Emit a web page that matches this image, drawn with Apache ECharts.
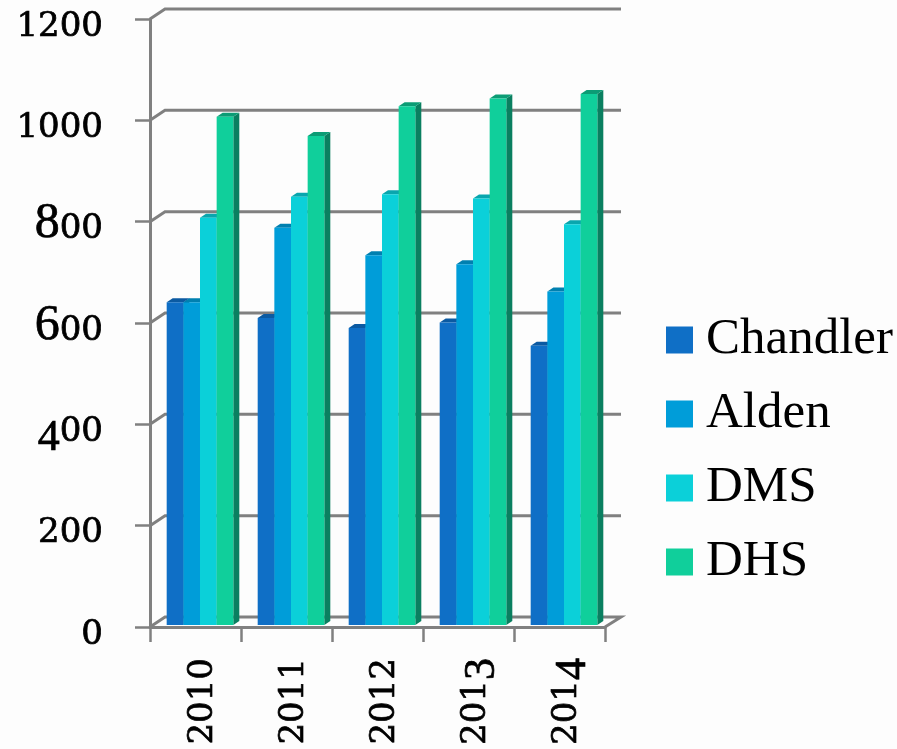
<!DOCTYPE html>
<html>
<head>
<meta charset="utf-8">
<style>html,body{margin:0;padding:0;background:#fdfdfd}#c{width:897px;height:749px}</style>
<script src="https://cdn.jsdelivr.net/npm/echarts@6/dist/echarts.min.js"></script>
</head>
<body>
<div id="c"></div>
<script>
// Enrolment by school and year
const years = ['2010', '2011', '2012', '2013', '2014'];
const yTicks = [0, 200, 400, 600, 800, 1000, 1200];
const chandler = [637, 606, 586, 597, 551];
const alden = [637, 784, 730, 712, 658];
const dms = [804, 845, 850, 842, 791];
const dhs = [1003, 965, 1024, 1039, 1048];

const schoolNames = ['Chandler', 'Alden', 'DMS', 'DHS'];
const schoolValues = [chandler, alden, dms, dhs];
const frontColors = ['#0F6FC6', '#009DD9', '#0BD0D9', '#10CF9B'];
const topColors = ['#0B5AA2', '#0080B0', '#09A6AE', '#0C9C75'];
const sideColors = ['#0A4F8D', '#006D99', '#08949B', '#0A7F60'];

const GRAY = '#808080';
const WALL = [15, -10];     // depth of the back wall
const BAR_DEPTH = [6, -4];
const BAR_SHIFT = [4.5, -2]; // bars stand slightly inside the floor
const BAR_BAND = 0.183;     // one bar as a share of a category

// Old-style figures: low 0 1 2, tall 6 8, descending 3 4
function oldStyle(text) {
  return String(text).split('').map(function (d) {
    if (d === '6' || d === '8') return '{t|' + d + '}';
    if (d === '3' || d === '4') return '{d|' + d + '}';
    return '{s|' + d + '}';
  }).join('');
}
const figureInk = {color: '#000', textBorderColor: '#000', textBorderWidth: 0.7, verticalAlign: 'middle'};
const figures = {
  s: Object.assign({fontFamily: 'DejaVu Serif', fontSize: 34, padding: [16, 0, 0, 0]}, figureInk),
  t: Object.assign({fontFamily: 'Liberation Serif', fontSize: 50, padding: [5, 0, 0, 0]}, figureInk),
  d: Object.assign({fontFamily: 'Liberation Serif', fontSize: 44, padding: [28, 0, 0, 0]}, figureInk)
};

function renderWall(params, api) {
  const g = params.coordSys;
  const y = api.coord([0, api.value(0)])[1];
  const stroke = {stroke: GRAY, lineWidth: 3, fill: null};
  const pts = [[g.x, y], [g.x + WALL[0], y + WALL[1]], [g.x + g.width + WALL[0] + 1, y + WALL[1]]];
  if (api.value(0) === 0) pts.push([g.x + g.width, y]);
  return {type: 'polyline', shape: {points: pts}, style: stroke, silent: true};
}

function barRenderer(idx) {
  return function (params, api) {
    const c = api.coord([api.value(0), api.value(1)]);
    const base = api.coord([api.value(0), 0])[1] + BAR_SHIFT[1];
    const band = api.size([1, 0])[0];
    const w = band * BAR_BAND;
    const x = c[0] + BAR_SHIFT[0] + (idx - 2) * w;
    const y = c[1] + BAR_SHIFT[1];
    const dx = BAR_DEPTH[0], dy = BAR_DEPTH[1];
    return {type: 'group', silent: true, children: [
      {type: 'polygon', shape: {points: [[x + w, y], [x + w + dx, y + dy], [x + w + dx, base + dy], [x + w, base]]}, style: {fill: sideColors[idx]}},
      {type: 'polygon', shape: {points: [[x, y], [x + dx, y + dy], [x + w + dx, y + dy], [x + w, y]]}, style: {fill: topColors[idx]}},
      {type: 'rect', shape: {x: x, y: y, width: w, height: base - y}, style: {fill: frontColors[idx]}}
    ]};
  };
}

const series = [{
  type: 'custom', name: 'wall', z: 1,
  coordinateSystem: 'cartesian2d',
  data: yTicks.map(function (v) { return [v]; }),
  encode: {y: 0},
  renderItem: renderWall
}];
schoolNames.forEach(function (name, idx) {
  series.push({
    type: 'custom', name: name, z: 3 + idx,
    coordinateSystem: 'cartesian2d',
    itemStyle: {color: frontColors[idx]},
    data: schoolValues[idx].map(function (v, i) { return [i, v]; }),
    encode: {x: 0, y: 1},
    renderItem: barRenderer(idx)
  });
});

const chart = echarts.init(document.getElementById('c'), null, {renderer: 'canvas'});
chart.setOption({
  animation: false,
  backgroundColor: '#fdfdfd',
  grid: {left: 150, top: 19, width: 455, height: 608, outerBoundsMode: 'none'},
  legend: {
    data: schoolNames, left: 666, top: 313.5, padding: 0, orient: 'vertical', icon: 'rect',
    itemWidth: 27, itemHeight: 27, itemGap: 21, selectedMode: false,
    textStyle: {fontFamily: 'Liberation Serif', fontSize: 51, color: '#000', lineHeight: 50, height: 50, padding: [0, 0, 3, 8]}
  },
  xAxis: {
    type: 'category', data: years,
    axisLine: {lineStyle: {color: GRAY, width: 3}},
    axisTick: {show: true, length: 15, lineStyle: {color: GRAY, width: 2.5}},
    axisLabel: {rotate: 90, interval: 0, margin: 31, formatter: oldStyle, rich: figures}
  },
  yAxis: {
    type: 'value', min: 0, max: 1200, interval: 200,
    splitLine: {show: false},
    axisLine: {show: true, lineStyle: {color: GRAY, width: 3}},
    axisTick: {show: true, length: 15, lineStyle: {color: GRAY, width: 2.5}},
    axisLabel: {margin: 47, formatter: oldStyle, rich: figures}
  },
  series: series
});
</script>
</body>
</html>
